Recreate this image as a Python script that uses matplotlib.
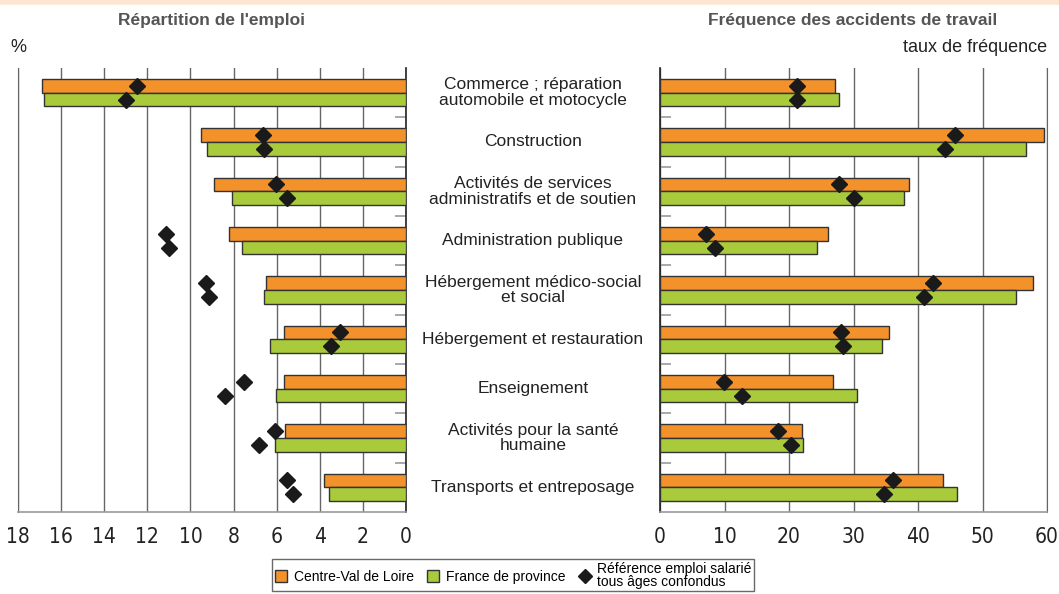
import matplotlib.pyplot as plt
import numpy as np

# Data
categories = [
    "Commerce ; réparation\nautomobile et motocycle",
    "Construction",
    "Activités de services\nadministratifs et de soutien",
    "Administration publique",
    "Hébergement médico-social\net social",
    "Hébergement et restauration",
    "Enseignement",
    "Activités pour la santé\nhumaine",
    "Transports et entreposage",
]

# Répartition de l'emploi (%)
emploi_cvl = [16.9, 9.5, 8.9, 8.2, 6.5, 5.65, 5.65, 5.6, 3.8]
emploi_fp = [16.8, 9.25, 8.05, 7.6, 6.6, 6.3, 6.05, 6.1, 3.55]
emploi_ref_cvl = [12.5, 6.65, 6.05, 11.15, 9.3, 3.05, 7.5, 6.1, 5.5]
emploi_ref_fp = [13.0, 6.6, 5.5, 11.0, 9.15, 3.5, 8.4, 6.8, 5.25]

# Fréquence des accidents de travail (taux de fréquence)
freq_cvl = [27.1, 59.5, 38.6, 26.0, 57.9, 35.5, 26.8, 22.0, 43.9]
freq_fp = [27.7, 56.7, 37.9, 24.4, 55.2, 34.4, 30.5, 22.1, 46.0]
freq_ref_cvl = [21.2, 45.8, 27.8, 7.2, 42.4, 28.1, 9.9, 18.3, 36.1]
freq_ref_fp = [21.2, 44.2, 30.0, 8.6, 40.9, 28.3, 12.7, 20.3, 34.7]

left_ticks = [18, 16, 14, 12, 10, 8, 6, 4, 2, 0]
right_ticks = [0, 10, 20, 30, 40, 50, 60]

orange = "#F3912B"
green = "#A9CB3B"
edge = "#333333"
gridc = "#666666"

plt.rcParams['font.family'] = ['Liberation Sans', 'DejaVu Sans']

fig = plt.figure(figsize=(10.59, 5.94), dpi=100)
ax_l = fig.add_axes([18 / 1059, 1 - 512 / 594, 388 / 1059, 444 / 594])
ax_r = fig.add_axes([660 / 1059, 1 - 512 / 594, 387 / 1059, 444 / 594])

y = np.arange(len(categories))
h = 0.28


def draw(ax, cvl, fp, ref_cvl, ref_fp, xmax, ticks, side):
    ax.barh(y - h / 2, cvl, height=h, color=orange, edgecolor=edge, linewidth=1, zorder=3)
    ax.barh(y + h / 2, fp, height=h, color=green, edgecolor=edge, linewidth=1, zorder=3)
    ax.plot(ref_cvl, y - h / 2, "D", color="#1a1a1a", markersize=8.5, zorder=4, clip_on=False)
    ax.plot(ref_fp, y + h / 2, "D", color="#1a1a1a", markersize=8.5, zorder=4, clip_on=False)
    ax.set_ylim(len(categories) - 0.5, -0.5)
    ax.set_xticks(ticks)
    ax.set_xticklabels([str(t) for t in ticks], fontsize=15, family="DejaVu Sans",
                       fontstretch="condensed")
    ax.tick_params(axis="x", length=0, pad=11, colors="#222222")
    ax.grid(axis="x", color=gridc, linewidth=1, zorder=0)
    ax.set_axisbelow(True)
    ax.set_yticks(np.arange(0.5, len(categories) - 0.5, 1.0))
    ax.set_yticklabels([])
    ax.tick_params(axis="y", direction="in", length=8, width=1.2, color="#999999")
    ax.spines["top"].set_visible(False)
    ax.spines["bottom"].set_color("#999999")
    ax.spines["bottom"].set_linewidth(1.2)
    if side == "left":
        ax.set_xlim(xmax, 0)
        ax.yaxis.tick_right()
        ax.spines["right"].set_color("#222222")
        ax.spines["right"].set_linewidth(1.2)
        ax.spines["left"].set_color(gridc)
    else:
        ax.set_xlim(0, xmax)
        ax.spines["left"].set_color("#222222")
        ax.spines["left"].set_linewidth(1.2)
        ax.spines["right"].set_color(gridc)


draw(ax_l, emploi_cvl, emploi_fp, emploi_ref_cvl, emploi_ref_fp, 18, left_ticks, "left")
draw(ax_r, freq_cvl, freq_fp, freq_ref_cvl, freq_ref_fp, 60, right_ticks, "right")

# category labels in the middle gutter
for i, cat in enumerate(categories):
    yf = 1 - (68 + (i + 0.5) * 444 / 9) / 594
    fig.text(533 / 1059, yf, cat, ha="center", va="center", fontsize=12.5,
             color="#222222", linespacing=1.05)

# titles and units
fig.text(212 / 1059, 1 - 20 / 594, "Répartition de l'emploi", ha="center", va="center",
         fontsize=12.5, fontweight="bold", color="#555555")
fig.text(853 / 1059, 1 - 20 / 594, "Fréquence des accidents de travail", ha="center",
         va="center", fontsize=12.5, fontweight="bold", color="#555555")
fig.text(18 / 1059, 1 - 48 / 594, "%", ha="center", va="center", fontsize=13, color="#222222")
fig.text(1047 / 1059, 1 - 48 / 594, "taux de fréquence", ha="right", va="center",
         fontsize=13, color="#222222")

# thin peach line at the very top
fig.add_artist(plt.Line2D([0, 1], [0.997, 0.997], transform=fig.transFigure,
                          color="#FCE6D2", linewidth=4))

# legend
handles = [
    plt.Line2D([], [], marker="s", linestyle="none", markerfacecolor=orange,
               markeredgecolor=edge, markersize=9),
    plt.Line2D([], [], marker="s", linestyle="none", markerfacecolor=green,
               markeredgecolor=edge, markersize=9),
    plt.Line2D([], [], marker="D", linestyle="none", color="#1a1a1a", markersize=7),
]
labels = ["Centre-Val de Loire", "France de province",
          "Référence emploi salarié\ntous âges confondus"]
leg = fig.legend(handles, labels, loc="upper center", bbox_to_anchor=(513 / 1059, 1 - 559 / 594),
                 ncol=3, frameon=True, fancybox=False, fontsize=10, handletextpad=0.4,
                 columnspacing=0.9, borderpad=0.2, handlelength=1.0, labelspacing=0.1,
                 borderaxespad=0)
leg.get_frame().set_edgecolor("#444444")
leg.get_frame().set_linewidth(1)
for t in leg.get_texts():
    t.set_linespacing(0.9)

fig.savefig("out.png", dpi=100)
